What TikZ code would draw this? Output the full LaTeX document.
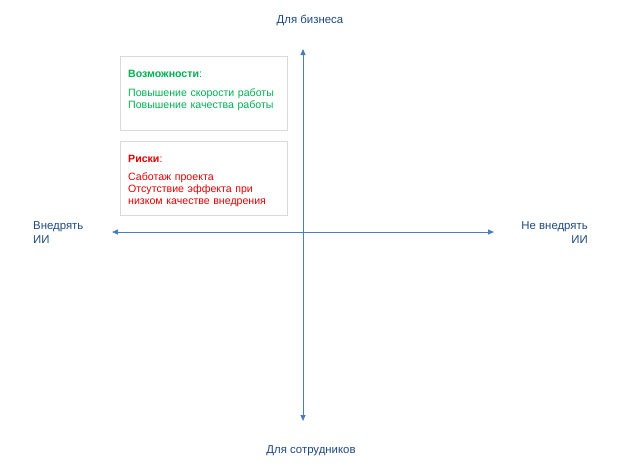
\documentclass[tikz,border=0pt]{standalone}
\usepackage{fontspec}
\setmainfont{Liberation Sans}
\definecolor{axisblue}{HTML}{4A7EBB}
\definecolor{labelblue}{HTML}{1F497D}
\definecolor{oppgreen}{HTML}{00B050}
\definecolor{riskred}{HTML}{E00000}
\colorlet{boxgray}{black!15}
\usetikzlibrary{arrows.meta,positioning}
\tikzstyle{axis}=[<->, axisblue, line width=0.8pt]
\tikzstyle{axislabel}=[text=labelblue, inner sep=0pt,
  font=\fontsize{11.4}{14}\selectfont]
\tikzstyle{card}=[draw=boxgray, line width=0.8pt, anchor=north west,
  minimum width=167pt, minimum height=74pt, inner sep=0pt]
\tikzstyle{cardtext}=[anchor=base west, inner sep=0pt, text width=158pt,
  align=left, font=\fontsize{10.6}{12}\selectfont]

\begin{document}
\begin{tikzpicture}[x=1pt, y=-1pt, >={Triangle[length=6pt,width=5pt]}]
  \useasboundingbox (0,0) rectangle (620,474);
  \coordinate (ytop) at (303,49);
  \coordinate (ybot) at (303,421);
  \coordinate (xlft) at (112,232);
  \coordinate (xrgt) at (494,232);

  \draw[axis] (xlft) -- (xrgt);
  \draw[axis] (ytop) -- (ybot);

  \node[card] (opp)  at (120,56)  {};
  \node[card] (risk) at (120,141) {};
  \node[cardtext, text=oppgreen] (opptext) at (128,77)
    {\textbf{Возможности}:\\[7pt]Повышение скорости работы\\Повышение качества работы};
  \node[cardtext, text=riskred] (risktext) at (128,162)
    {\textbf{Риски}:\\[6pt]Саботаж проекта\\Отсутствие эффекта при\\низком качестве внедрения};

  \node[axislabel] (biz)   at (310,20)  {Для бизнеса};
  \node[axislabel] (staff) at (311,451) {Для сотрудников};
  \node[axislabel, anchor=west, align=left]  (adopt)  at (33,233)  {Внедрять\\ИИ};
  \node[axislabel, anchor=east, align=right] (reject) at (588,233) {Не внедрять\\ИИ};
\end{tikzpicture}
\end{document}
